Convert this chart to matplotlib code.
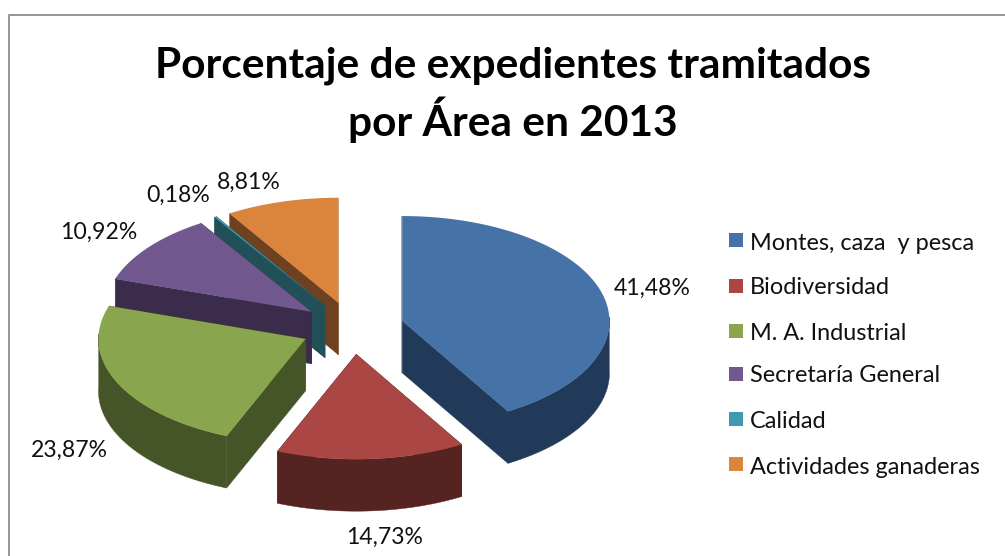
import numpy as np
import matplotlib
matplotlib.use('Agg')
import matplotlib.pyplot as plt
from matplotlib.patches import Polygon, Rectangle

FIGSIZE = (10.05, 5.56)
TITLE = 'Porcentaje de expedientes tramitados\npor Área en 2013'

AREAS = ['Montes, caza  y pesca', 'Biodiversidad', 'M. A. Industrial',
         'Secretaría General', 'Calidad', 'Actividades ganaderas']
VALUES = [41.48, 14.73, 23.87, 10.92, 0.18, 8.81]
LABELS = ['41,48%', '14,73%', '23,87%', '10,92%', '0,18%', '8,81%']

TOP_COLORS = ['#4572a7', '#aa4643', '#89a54e', '#71588f', '#4198af', '#db843d']
SIDE_COLORS = ['#223a59', '#552320', '#465527', '#3a2c4a', '#215059', '#6e4220']

# pixel layout of the pie
CX, CY = 352.5, 328
RX, RY = 207, 105
DEPTH = 52
EXPLODE = 0.25
DRAW_ORDER = [5, 4, 3, 2, 1, 0]

LABEL_POS = [(652, 288), (385, 537), (69, 450), (99, 232), (178, 195), (249, 182)]
LEGEND_KEY_Y = [233, 279, 324, 367, 412, 457]
LEGEND_TEXT_Y = [243, 287, 333, 375, 421, 467]


def draw_slice(ax, start, end, top, side):
    mid = (start + end) / 2
    ox = CX + EXPLODE * RX * np.sin(mid)
    oy = CY - EXPLODE * RY * np.cos(mid)
    t = np.linspace(start, end, 200)
    xs = ox + RX * np.sin(t)
    ys = oy - RY * np.cos(t)

    # radial faces
    for i in (0, -1):
        wall = [(ox, oy), (xs[i], ys[i]), (xs[i], ys[i] + DEPTH), (ox, oy + DEPTH)]
        ax.add_patch(Polygon(wall, closed=True, fc=side, ec=side, lw=0.3))

    # outer rim, only the front half shows
    front = np.cos(t) < 0.05
    if front.any():
        fx, fy = xs[front], ys[front]
        rim = np.column_stack([np.r_[fx, fx[::-1]],
                               np.r_[fy, fy[::-1] + DEPTH]])
        ax.add_patch(Polygon(rim, closed=True, fc=side, ec=side, lw=0.3))

    outline = np.column_stack([np.r_[ox, xs], np.r_[oy, ys]])
    ax.add_patch(Polygon(outline, closed=True, fc=top, ec='none'))


def plot_pie(ax):
    edges = np.r_[0, np.cumsum(VALUES)] / sum(VALUES) * 2 * np.pi
    for i in DRAW_ORDER:
        draw_slice(ax, edges[i], edges[i + 1], TOP_COLORS[i], SIDE_COLORS[i])
    for label, (x, y) in zip(LABELS, LABEL_POS):
        ax.text(x, y, label, ha='center', va='center', fontsize=16.6,
                color='#111111')


def plot_legend(ax):
    for i, area in enumerate(AREAS):
        ax.add_patch(Rectangle((729, LEGEND_KEY_Y[i]), 14, 14, fc=TOP_COLORS[i],
                               ec='none'))
        ax.text(750, LEGEND_TEXT_Y[i], area, ha='left', va='center',
                fontsize=16.9, color='#111111')


if __name__ == '__main__':
    plt.rcParams['font.family'] = ['Lato', 'DejaVu Sans']

    fig = plt.figure(figsize=FIGSIZE, dpi=100)
    ax = fig.add_axes([0, 0, 1, 1])
    ax.set_xlim(0, 1005)
    ax.set_ylim(556, 0)
    ax.axis('off')

    # chart frame, runs off the crop at right and bottom
    ax.plot([9, 9, 1005], [556, 14.5, 14.5], color='#969696', lw=1.4)

    ax.text(513, 95, TITLE, ha='center', va='center', fontsize=30.5,
            fontweight='bold', color='black', linespacing=1.28)

    plot_pie(ax)
    plot_legend(ax)

    fig.savefig('out.png', dpi=100, facecolor='white')
    plt.close()
